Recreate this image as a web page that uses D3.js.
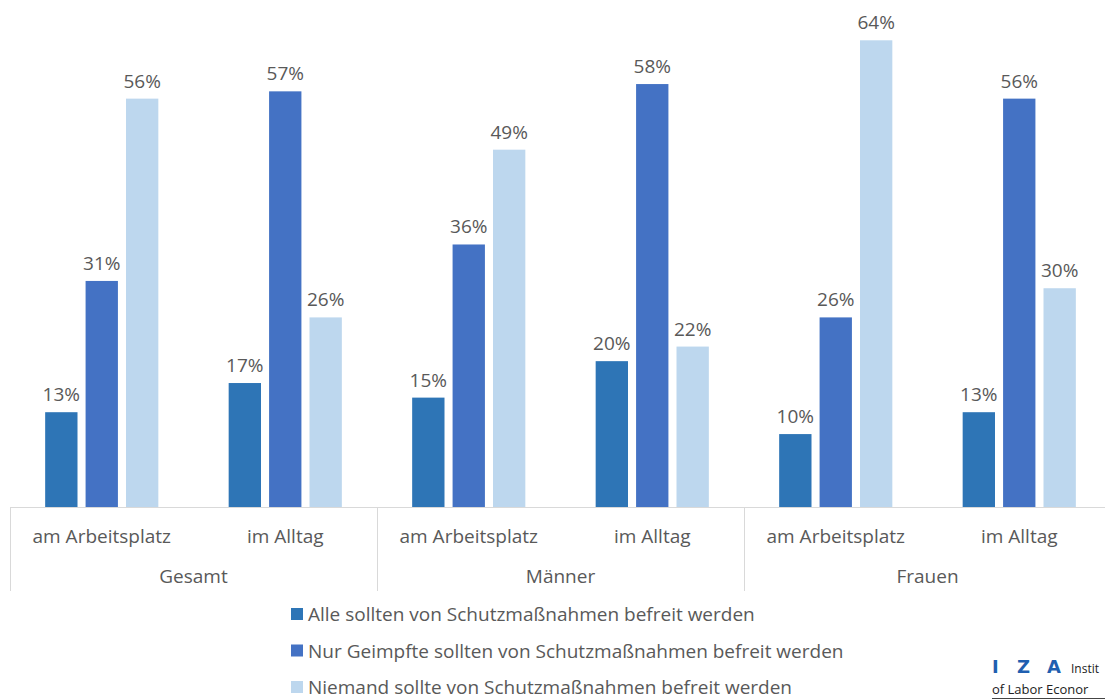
<!DOCTYPE html>
<html>
<head>
  <meta charset="utf-8">
  <title>Befreiung von Schutzmaßnahmen</title>
  <script src="https://d3js.org/d3.v7.min.js"></script>
  <style>
    body { margin: 0; background: #fff; }
    text { font-family: "Open Sans", sans-serif; fill: #595959; }
  </style>
</head>
<body>
<div id="chart"></div>
<script>
  // groups, sub-categories and series
  const groups = ["Gesamt", "Männer", "Frauen"];
  const places = ["am Arbeitsplatz", "im Alltag"];
  const seriesNames = [
    "Alle sollten von Schutzmaßnahmen befreit werden",
    "Nur Geimpfte sollten von Schutzmaßnahmen befreit werden",
    "Niemand sollte von Schutzmaßnahmen befreit werden"
  ];
  const colors = ["#2E75B6", "#4472C4", "#BDD7EE"];

  // values in %, order: Gesamt AP, Gesamt Alltag, Männer AP, Männer Alltag, Frauen AP, Frauen Alltag
  const alle = [13, 17, 15, 20, 10, 13];
  const nurGeimpfte = [31, 57, 36, 58, 26, 56];
  const niemand = [56, 26, 49, 22, 64, 30];
  const seriesValues = [alle, nurGeimpfte, niemand];

  const width = 1105, height = 700;
  const baseY = 507;

  const svg = d3.select("#chart").append("svg")
    .attr("width", width)
    .attr("height", height);

  const xGroup = d3.scaleBand().domain(groups).range([10, 1111]);
  const xPlace = d3.scaleBand().domain(places).range([0, xGroup.bandwidth()]);
  const xSeries = d3.scaleBand().domain(d3.range(3))
    .range([0, xPlace.bandwidth()])
    .paddingInner(0.2).paddingOuter(0.87);
  const y = d3.scaleLinear().domain([0, 64]).range([baseY, 40.3]);

  // flatten data
  const bars = [];
  groups.forEach((g, gi) => {
    places.forEach((p, pi) => {
      seriesValues.forEach((vals, si) => {
        bars.push({g: g, p: p, s: si, value: vals[gi * 2 + pi]});
      });
    });
  });

  const barX = d => xGroup(d.g) + xPlace(d.p) + xSeries(d.s);

  svg.append("g").selectAll("rect")
    .data(bars)
    .enter().append("rect")
    .attr("x", barX)
    .attr("y", d => y(d.value))
    .attr("width", xSeries.bandwidth())
    .attr("height", d => baseY - y(d.value))
    .attr("fill", d => colors[d.s]);

  // value labels
  svg.append("g").selectAll("text")
    .data(bars)
    .enter().append("text")
    .attr("x", d => barX(d) + xSeries.bandwidth() / 2)
    .attr("y", d => y(d.value) - 11)
    .attr("text-anchor", "middle")
    .style("font-size", "19px")
    .text(d => d.value + "%");

  // axis line and group separators
  svg.append("line")
    .attr("x1", 10).attr("x2", 1111)
    .attr("y1", baseY + 0.5).attr("y2", baseY + 0.5)
    .attr("stroke", "#D9D9D9").attr("stroke-width", 1);

  const seps = groups.map(g => xGroup(g)).concat([xGroup.range()[1]]);
  svg.append("g").selectAll("line")
    .data(seps)
    .enter().append("line")
    .attr("x1", d => Math.round(d) + 0.5).attr("x2", d => Math.round(d) + 0.5)
    .attr("y1", baseY).attr("y2", 591)
    .attr("stroke", "#D9D9D9").attr("stroke-width", 1);

  // category labels
  groups.forEach(g => {
    svg.append("g").selectAll("text")
      .data(places)
      .enter().append("text")
      .attr("x", p => xGroup(g) + xPlace(p) + xPlace.bandwidth() / 2)
      .attr("y", 543)
      .attr("text-anchor", "middle")
      .style("font-size", "19px")
      .text(p => p);
  });

  svg.append("g").selectAll("text")
    .data(groups)
    .enter().append("text")
    .attr("x", g => xGroup(g) + xGroup.bandwidth() / 2)
    .attr("y", 583)
    .attr("text-anchor", "middle")
    .style("font-size", "19px")
    .text(g => g);

  // legend
  const legend = svg.append("g").selectAll("g")
    .data(seriesNames)
    .enter().append("g")
    .attr("transform", (d, i) => "translate(291," + (614 + i * 36.5) + ")");

  legend.append("rect")
    .attr("x", 0).attr("y", -6)
    .attr("width", 12).attr("height", 12)
    .attr("fill", (d, i) => colors[i]);

  legend.append("text")
    .attr("x", 17)
    .attr("y", 7)
    .style("font-size", "19px")
    .text(d => d);

  // IZA logo (cut off at right edge in the source image)
  const logo = svg.append("g");
  logo.append("g").selectAll("text")
    .data([["I", 992], ["Z", 1017], ["A", 1047]])
    .enter().append("text")
    .attr("x", d => d[1]).attr("y", 673)
    .style("font-family", "'DejaVu Sans', sans-serif")
    .style("font-size", "18px")
    .style("font-weight", "bold")
    .style("fill", "#1F5FB0")
    .text(d => d[0]);
  logo.append("text")
    .attr("x", 1071).attr("y", 673)
    .style("font-size", "12px")
    .style("fill", "#222")
    .text("Instit");
  logo.append("text")
    .attr("x", 992).attr("y", 694)
    .style("font-size", "13px")
    .style("fill", "#222")
    .text("of Labor Econor");
  logo.append("line")
    .attr("x1", 992).attr("x2", 1105)
    .attr("y1", 698.5).attr("y2", 698.5)
    .attr("stroke", "#444").attr("stroke-width", 1);
</script>
</body>
</html>
